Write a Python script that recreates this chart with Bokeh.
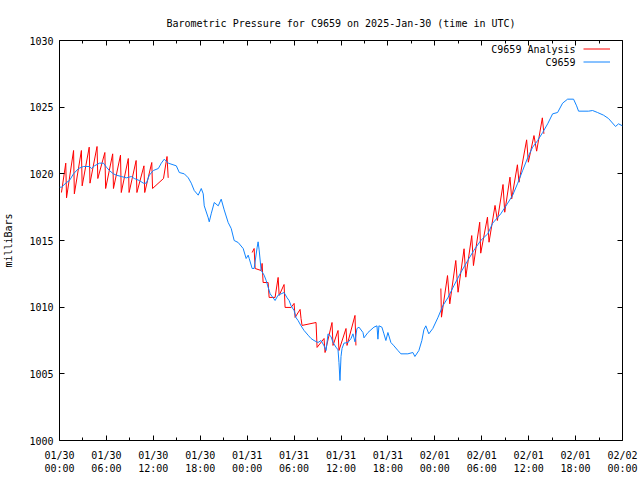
import math
from bokeh.plotting import figure
from bokeh.models import LinearAxis, FixedTicker, Range1d, Legend, LegendItem, Label
from bokeh.embed import file_html
from bokeh.resources import INLINE

title_text = "Barometric Pressure for C9659 on 2025-Jan-30 (time in UTC)"
y_label = "milliBars"
obs_name = "C9659"
ana_name = "C9659 Analysis"

# observed station pressure (hours since 2025-01-30 00:00 UTC, mb)
obs_hours = [0.0, 0.26, 0.89, 1.28, 1.79, 2.43, 3.06, 3.83, 4.09, 4.47, 5.11, 5.62, 6.0, 6.38,
             6.89, 7.28, 7.91, 8.55, 9.19, 9.57, 10.21, 10.72, 11.11, 11.49, 12.0, 12.64, 13.02,
             13.4, 13.91, 14.94, 15.32, 15.96, 16.47, 16.85, 17.23, 17.74, 18.13, 18.38, 18.51,
             19.02, 19.15, 19.40, 19.79, 20.30, 20.68, 21.06, 21.57, 21.96, 22.34, 22.85, 23.49,
             23.87, 24.13, 24.26, 24.64, 24.89, 25.28, 25.40, 25.53, 25.79, 26.17, 26.43, 26.68,
             26.94, 27.32, 27.57, 27.96, 28.34, 28.72, 29.11, 29.36, 29.62, 30.0, 30.26, 30.51,
             30.89, 31.28, 31.79, 32.17, 32.55, 33.06, 33.45, 33.83, 34.09, 34.34, 34.72, 34.98,
             35.36, 35.62, 35.74, 35.87, 36.0, 36.13, 36.38, 36.89, 37.28, 37.53, 37.79, 38.04,
             38.30, 38.81, 38.94, 39.45, 39.83, 40.21, 40.60, 40.72, 40.85, 41.23, 41.49, 41.74,
             42.0, 42.38, 42.77, 43.28, 43.66, 44.55, 45.19, 45.45, 45.96, 46.34, 46.60, 46.85,
             47.23, 47.74, 48.38, 49.02, 49.66, 50.43, 51.32, 52.21, 52.98, 53.87, 54.77, 55.40,
             56.43, 57.32, 57.96, 58.60, 59.23, 59.87, 60.51, 61.15, 61.79, 62.43, 63.06, 63.70,
             64.34, 64.98, 65.74, 66.13, 66.38, 67.66, 68.17, 68.81, 69.57, 70.21, 71.11, 71.49,
             72.0]
obs_mb = [1019.0, 1019.0, 1019.35, 1019.5, 1020.0, 1020.4, 1020.55, 1020.55, 1020.4, 1020.6,
          1020.8, 1020.8, 1020.5, 1020.25, 1020.0, 1019.9, 1019.8, 1019.7, 1019.8, 1019.65,
          1019.5, 1019.3, 1019.3, 1019.9, 1020.25, 1020.4, 1020.8, 1021.1, 1020.8, 1020.6,
          1020.1, 1020.0, 1019.7, 1019.3, 1018.75, 1018.4, 1018.9, 1018.5, 1017.6, 1016.7,
          1016.4, 1017.0, 1017.85, 1017.6, 1018.1, 1017.3, 1016.35, 1015.9, 1015.0, 1014.85,
          1014.4, 1013.65, 1013.9, 1013.65, 1012.9, 1012.9, 1014.5, 1014.9, 1014.3, 1012.75,
          1012.4, 1012.0, 1011.5, 1011.0, 1010.7, 1010.5, 1010.9, 1011.0, 1011.1, 1010.7,
          1010.5, 1010.1, 1009.75, 1009.2, 1009.0, 1008.6, 1008.25, 1007.9, 1007.65, 1007.5,
          1007.35, 1007.5, 1007.1, 1006.75, 1008.0, 1007.8, 1007.35, 1007.0, 1006.8, 1005.85,
          1004.5, 1006.3, 1006.9, 1007.3, 1007.35, 1007.65, 1008.0, 1007.4, 1008.4, 1008.5,
          1008.1, 1007.7, 1008.1, 1008.3, 1008.5, 1008.6, 1007.6, 1008.6, 1008.5, 1008.0,
          1007.5, 1008.1, 1007.35, 1007.1, 1006.75, 1006.5, 1006.5, 1006.6, 1006.3, 1006.75,
          1007.5, 1008.3, 1008.6, 1008.0, 1008.4, 1009.2, 1010.1, 1010.7, 1011.6, 1012.6,
          1013.5, 1014.25, 1015.0, 1015.5, 1016.3, 1017.0, 1017.8, 1018.4, 1019.3, 1020.25,
          1021.2, 1022.0, 1022.5, 1023.1, 1023.75, 1024.5, 1024.6, 1025.3, 1025.6, 1025.6,
          1025.1, 1024.7, 1024.7, 1024.75, 1024.6, 1024.4, 1024.15, 1023.55, 1023.75, 1023.6]

# analysis series, three runs separated by gaps (NaN)
nan = float("nan")
ana_hours = [0.25, 0.8, 0.9, 1.8, 1.9, 2.8, 2.9, 3.8, 3.9, 4.8, 4.9, 5.8, 5.9, 6.8, 6.9, 7.8,
             7.9, 8.8, 8.9, 9.8, 9.9, 10.8, 10.9, 11.8, 11.9, 13.3, 13.75, 13.9,
             nan,
             24.64, 24.89, 25.02, 25.79, 25.91, 26.04, 26.68, 26.81, 27.57, 27.96, 28.09, 28.72,
             28.85, 29.62, 30.0, 30.13, 30.77, 30.89, 31.02, 32.81, 32.94, 33.83, 33.96, 34.85,
             34.98, 35.62, 35.74, 36.64, 36.77, 37.79, 37.91,
             nan,
             48.77, 48.85, 49.62, 49.91, 50.68, 50.97, 51.74, 51.96, 52.72, 52.94, 53.74, 53.87,
             54.73, 54.93, 55.70, 56.0, 56.72, 56.94, 57.61, 57.83, 58.56, 58.76, 59.74, 59.96,
             60.68, 61.02, 61.75, 61.95]
ana_mb = [1018.6, 1020.8, 1018.2, 1021.75, 1018.5, 1021.75, 1019.1, 1022.0, 1019.3, 1022.05,
          1019.65, 1021.6, 1018.9, 1021.5, 1018.9, 1021.4, 1018.6, 1021.15, 1018.6, 1021.0,
          1018.6, 1020.6, 1018.6, 1020.85, 1018.9, 1019.65, 1021.3, 1019.7,
          nan,
          1014.1, 1014.4, 1012.9, 1012.75, 1013.28, 1011.85, 1011.85, 1010.73, 1010.73, 1012.23,
          1010.88, 1011.7, 1009.98, 1009.98, 1010.28, 1009.23, 1009.83, 1009.15, 1008.63,
          1008.85, 1006.98, 1007.65, 1006.6, 1008.85, 1007.13, 1008.25, 1006.75, 1008.4,
          1007.13, 1009.38, 1007.13,
          nan,
          1011.4, 1009.25, 1012.37, 1010.25, 1013.5, 1011.12, 1014.38, 1012.25, 1015.37,
          1013.12, 1016.37, 1014.05, 1016.75, 1014.87, 1017.63, 1016.5, 1019.2, 1017.12,
          1019.75, 1018.13, 1020.68, 1019.37, 1022.55, 1020.87, 1022.87, 1021.7, 1024.2, 1023.0]

x_ticks = [0, 6, 12, 18, 24, 30, 36, 42, 48, 54, 60, 66, 72]
x_minor = [3, 9, 15, 21, 27, 33, 39, 45, 51, 57, 63, 69]
x_tick_labels = ["01/30\n00:00", "01/30\n06:00", "01/30\n12:00", "01/30\n18:00",
                 "01/31\n00:00", "01/31\n06:00", "01/31\n12:00", "01/31\n18:00",
                 "02/01\n00:00", "02/01\n06:00", "02/01\n12:00", "02/01\n18:00",
                 "02/02\n00:00"]
y_ticks = [1000, 1005, 1010, 1015, 1020, 1025, 1030]

FONT = "DejaVu Sans Mono"
FS = "10px"
RED = "#ff0000"
BLUE = "#1084ff"

p = figure(width=640, height=480, output_backend="svg", toolbar_location=None,
           x_range=Range1d(0, 72), y_range=Range1d(1000, 1030),
           min_border_left=58, min_border_right=18, min_border_top=40, min_border_bottom=40,
           x_axis_location=None, y_axis_location=None)
p.grid.visible = False
p.outline_line_color = "black"
p.outline_line_width = 1
p.background_fill_color = "white"
p.border_fill_color = "white"

p.title.text = title_text
p.title.align = "center"
p.title.text_font = FONT
p.title.text_font_size = FS
p.title.text_font_style = "normal"
p.title.text_color = "black"
p.title.standoff = 24

xt = FixedTicker(ticks=x_ticks, minor_ticks=x_minor)
yt = FixedTicker(ticks=y_ticks, minor_ticks=[])

def style_axis(ax):
    ax.axis_line_color = None
    ax.major_tick_in = 5
    ax.major_tick_out = 0
    ax.minor_tick_in = 3
    ax.minor_tick_out = 0
    ax.major_tick_line_color = "black"
    ax.minor_tick_line_color = "black"
    ax.major_label_text_font = FONT
    ax.major_label_text_font_size = FS
    ax.major_label_text_color = "black"

xb = LinearAxis(ticker=xt)
style_axis(xb)
xb.major_label_overrides = {t: l for t, l in zip(x_ticks, x_tick_labels)}
xb.major_label_standoff = 9
p.add_layout(xb, "below")

xa = LinearAxis(ticker=xt)
style_axis(xa)
xa.major_label_overrides = {t: "" for t in x_ticks}
xa.major_label_standoff = 0
p.add_layout(xa, "above")

yl = LinearAxis(ticker=yt, axis_label=y_label)
style_axis(yl)
yl.major_label_standoff = 6
yl.axis_label_text_font = FONT
yl.axis_label_text_font_size = FS
yl.axis_label_text_font_style = "normal"
yl.axis_label_text_color = "black"
yl.axis_label_standoff = 12
p.add_layout(yl, "left")

yr = LinearAxis(ticker=yt)
style_axis(yr)
yr.major_label_overrides = {t: "" for t in y_ticks}
yr.major_label_standoff = 0
p.add_layout(yr, "right")

r_ana = p.line(ana_hours, ana_mb, line_color=RED, line_width=1)
r_obs = p.line(obs_hours, obs_mb, line_color=BLUE, line_width=1)

legend = Legend(items=[LegendItem(label=" ", renderers=[r_ana]),
                       LegendItem(label=" ", renderers=[r_obs])],
                location="top_right", margin=0, padding=2, spacing=0,
                label_standoff=10, label_width=0, label_height=13,
                glyph_width=27, glyph_height=13,
                label_text_font=FONT, label_text_font_size=FS,
                border_line_alpha=0, background_fill_alpha=0)
p.add_layout(legend)

for name, yv in [(ana_name, 1029.33), (obs_name, 1028.35)]:
    p.add_layout(Label(x=66.0, y=yv, text=name, text_align="right", text_baseline="middle",
                       text_font=FONT, text_font_size=FS, text_color="black"))

open("out.html", "w").write(file_html(p, INLINE))
